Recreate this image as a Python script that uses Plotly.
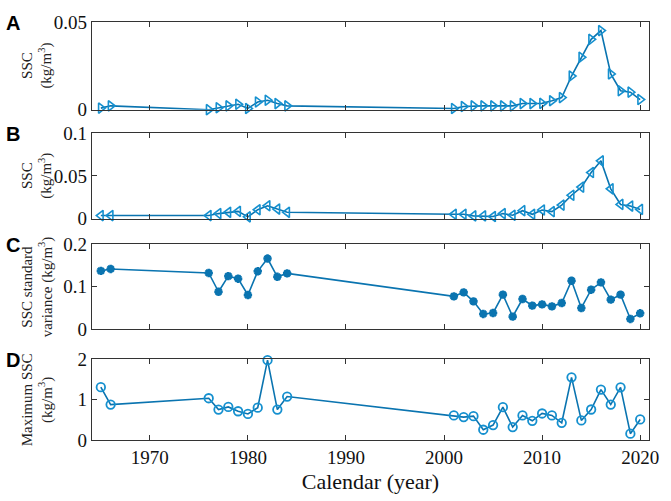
import plotly.graph_objects as go
from plotly.subplots import make_subplots

years = [1965, 1966, 1976, 1977, 1978, 1979, 1980, 1981, 1982, 1983, 1984,
         2001, 2002, 2003, 2004, 2005, 2006, 2007, 2008, 2009, 2010,
         2011, 2012, 2013, 2014, 2015, 2016, 2017, 2018, 2019, 2020]

ssc_a = [0.0009, 0.0022, 0.0, 0.0011, 0.0022, 0.0031, 0.0007, 0.0044, 0.0054, 0.0035, 0.0022,
         0.0007, 0.0018, 0.0022, 0.0022, 0.0022, 0.0022, 0.0022, 0.0035, 0.0035, 0.0036,
         0.0051, 0.0069, 0.0192, 0.0299, 0.0401, 0.0451, 0.0204, 0.0108, 0.0100, 0.0058]

ssc_b = [0.0038, 0.0038, 0.0038, 0.0061, 0.0076, 0.0087, 0.0023, 0.0106, 0.0152, 0.0114, 0.0076,
         0.0053, 0.0053, 0.0034, 0.0034, 0.0027, 0.0061, 0.0042, 0.0095, 0.0053, 0.0103,
         0.0084, 0.0160, 0.0275, 0.0370, 0.0540, 0.0676, 0.0350, 0.0168, 0.0149, 0.0110]

ssc_std = [0.137, 0.1415, 0.132, 0.0877, 0.1246, 0.1185, 0.080, 0.136, 0.166, 0.123, 0.131,
           0.0769, 0.0863, 0.0651, 0.0353, 0.0376, 0.0808, 0.029, 0.0706, 0.0549, 0.058,
           0.0533, 0.0612, 0.1137, 0.0494, 0.0925, 0.1098, 0.069, 0.0808, 0.0235, 0.0369]

ssc_max = [1.306, 0.876, 1.033, 0.752, 0.818, 0.711, 0.645, 0.80, 1.975, 0.752, 1.074,
           0.607, 0.566, 0.59, 0.254, 0.369, 0.811, 0.32, 0.607, 0.475, 0.656,
           0.607, 0.426, 1.549, 0.484, 0.754, 1.246, 0.877, 1.303, 0.156, 0.508]

x_ticks = [1970, 1980, 1990, 2000, 2010, 2020]
panel_letters = ["A", "B", "C", "D"]
y_titles = ["SSC<br>(kg/m<sup>3</sup>)", "SSC<br>(kg/m<sup>3</sup>)",
            "SSC standard<br>variance (kg/m<sup>3</sup>)", "Maximum SSC<br>(kg/m<sup>3</sup>)"]
y_ticks = [[0, 0.05], [0, 0.05, 0.1], [0, 0.1, 0.2], [0, 1, 2]]
y_ticktext = [["0", "0.05"], ["0", "0.05", "0.1"], ["0", "0.1", "0.2"], ["0", "1", "2"]]
y_ranges = [[0, 0.05], [0, 0.1], [0, 0.2], [0, 2]]

line_col = "#0a74b0"
mark_col = "#1590cf"
serif = "Times New Roman, Liberation Serif, serif"

fig = make_subplots(rows=4, cols=1)

series = [ssc_a, ssc_b, ssc_std, ssc_max]
markers = [dict(symbol="triangle-right-open", size=9, color=mark_col, line=dict(width=1.6, color=mark_col)),
           dict(symbol="triangle-left-open", size=9, color=mark_col, line=dict(width=1.6, color=mark_col)),
           dict(symbol="asterisk-open", size=7, color=line_col, line=dict(width=2.6, color=line_col)),
           dict(symbol="circle-open", size=8.5, color=mark_col, line=dict(width=1.8, color=mark_col))]

for i, vals in enumerate(series):
    fig.add_trace(go.Scatter(x=years, y=vals, mode="lines+markers",
                             line=dict(color=line_col, width=1.6),
                             marker=markers[i], cliponaxis=False, showlegend=False),
                  row=i + 1, col=1)

# panel positions in pixels (top, bottom) of the 501 px figure
W, H = 671, 501
ml, mr, mt, mb = 92, 14, 12, 60
panels_px = [(12, 102), (126, 214), (240, 327), (358, 441)]
ph = H - mt - mb

for i, (top, bot) in enumerate(panels_px):
    y0 = 1 - (bot - mt) / ph
    y1 = 1 - (top - mt) / ph
    ax = "yaxis" if i == 0 else "yaxis%d" % (i + 1)
    xax = "xaxis" if i == 0 else "xaxis%d" % (i + 1)
    fig.update_layout({
        ax: dict(domain=[y0, y1], range=y_ranges[i], tickvals=y_ticks[i], ticktext=y_ticktext[i],
                 ticks="inside", ticklen=5, tickcolor="#333", mirror="ticks", showline=True,
                 linecolor="#333", linewidth=1.2, showgrid=False, zeroline=False,
                 tickfont=dict(family=serif, size=19, color="#111")),
        xax: dict(range=[1964.1, 2020.9], tickvals=x_ticks, ticks="inside", ticklen=5,
                  tickcolor="#333", mirror="ticks", showline=True, linecolor="#333",
                  linewidth=1.2, showgrid=False, zeroline=False,
                  showticklabels=(i == 3),
                  tickfont=dict(family=serif, size=19, color="#111")),
    })
    ymid = 1 - ((top + bot) / 2 - mt) / ph
    fig.add_annotation(text=y_titles[i], xref="paper", yref="paper",
                       x=(37 - ml) / (W - ml - mr), y=ymid, textangle=-90,
                       showarrow=False, xanchor="center", yanchor="middle",
                       font=dict(family=serif, size=15, color="#222"))
    fig.add_annotation(text="<b>%s</b>" % panel_letters[i], xref="paper", yref="paper",
                       x=(3 - ml) / (W - ml - mr), y=1 - (top + 1 - mt) / ph,
                       showarrow=False, xanchor="left", yanchor="middle",
                       font=dict(family="Liberation Sans", size=20, color="#000"))

fig.update_layout(
    width=W, height=H,
    margin=dict(l=ml, r=mr, t=mt, b=mb),
    plot_bgcolor="white", paper_bgcolor="white",
    xaxis4=dict(title=dict(text="Calendar (year)", standoff=6,
                           font=dict(family=serif, size=22, color="#111"))),
)

# the default page has an 8px body margin that pushes the figure off the window
fig.write_html("out.html", config={"displayModeBar": False},
               post_script="document.body.style.margin='0';")
